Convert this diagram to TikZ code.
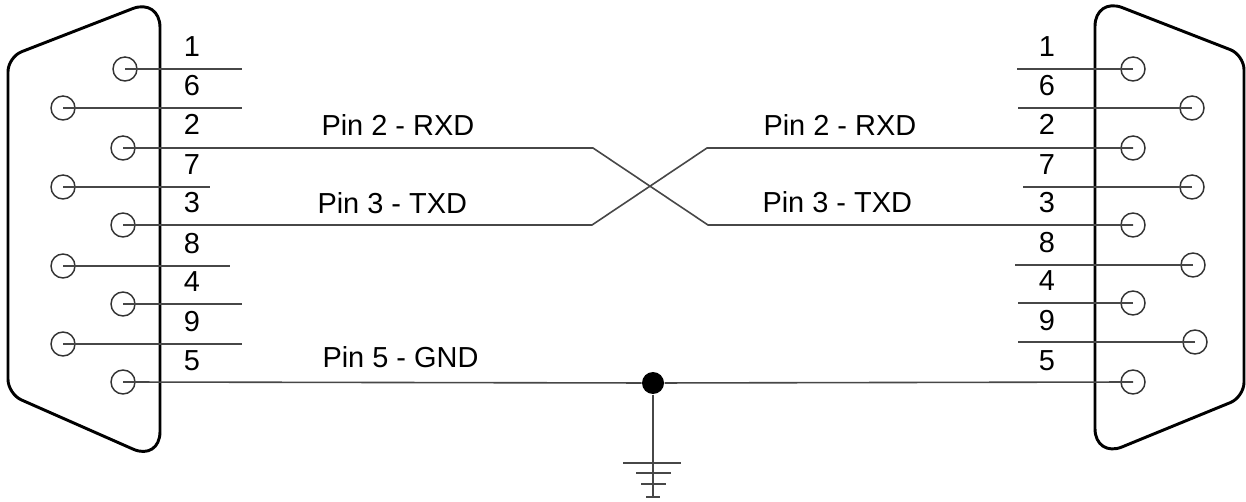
\documentclass[tikz,border=0pt]{standalone}
\usepackage{fontspec}
\setmainfont{Liberation Sans}

\tikzset{every picture/.style={line width=0.75pt}}
\tikzset{
	shell/.style={line width=2.2pt, line join=round},
	wire/.style={draw=black!72, line width=1.2pt},
	pinhole/.style={circle, draw=black!80, line width=1.1pt, minimum size=18pt, inner sep=0pt},
	pinnum/.style={anchor=base, inner sep=0pt, font=\fontsize{21.7}{26}\selectfont},
	signame/.style={anchor=base west, inner sep=0pt, font=\fontsize{21.7}{26}\selectfont},
	gnddot/.style={circle, fill=black, minimum size=16.5pt, inner sep=0pt},
}

\begin{document}
\begin{tikzpicture}[x=0.75pt,y=0.75pt,yscale=-1,xscale=1]
	\useasboundingbox (0,0) rectangle (1246,502);
	
	%Shape: Left D-Sub shell
	\draw [shell] (8,220) [rounded corners=11pt] -- (8,57) [rounded corners=22pt] -- (160,-2) -- (160,461) [rounded corners=11pt] -- (8,394) -- cycle ;
	%Shape: Right D-Sub shell
	\draw [shell] (1244,220) [rounded corners=11pt] -- (1244,55) [rounded corners=22pt] -- (1095,-3) -- (1095,458) [rounded corners=11pt] -- (1244,397) -- cycle ;
	
	%Shape: Left pin holes
	\node [pinhole] (L1) at (125,69) {};
	\node [pinhole] (L6) at (63,108) {};
	\node [pinhole] (L2) at (123,148) {};
	\node [pinhole] (L7) at (63,187) {};
	\node [pinhole] (L3) at (123,225) {};
	\node [pinhole] (L8) at (63,266) {};
	\node [pinhole] (L4) at (123,304) {};
	\node [pinhole] (L9) at (63,344) {};
	\node [pinhole] (L5) at (123,382) {};
	%Shape: Right pin holes
	\node [pinhole] (R1) at (1133,69) {};
	\node [pinhole] (R6) at (1192,108) {};
	\node [pinhole] (R2) at (1133,148) {};
	\node [pinhole] (R7) at (1192,187) {};
	\node [pinhole] (R3) at (1133,225) {};
	\node [pinhole] (R8) at (1193,265) {};
	\node [pinhole] (R4) at (1133,303) {};
	\node [pinhole] (R9) at (1195,342) {};
	\node [pinhole] (R5) at (1133,382) {};
	
	%Free wire ends
	\coordinate (L1e) at (242,69);
	\coordinate (L6e) at (242,108);
	\coordinate (L7e) at (210,187);
	\coordinate (L8e) at (230,266);
	\coordinate (L4e) at (242,304);
	\coordinate (L9e) at (242,344);
	\coordinate (R1e) at (1017,69);
	\coordinate (R6e) at (1018,108);
	\coordinate (R7e) at (1023,187);
	\coordinate (R8e) at (1015,265);
	\coordinate (R4e) at (1018,303);
	\coordinate (R9e) at (1018,342);
	%Crossover bends
	\coordinate (xa) at (593,148);
	\coordinate (xb) at (707,148);
	\coordinate (xc) at (592,225);
	\coordinate (xd) at (708,225);
	
	%Straight Lines: unused pins
	\draw [wire] (L1.center) -- (L1e) ;
	\draw [wire] (L6.center) -- (L6e) ;
	\draw [wire] (L7.center) -- (L7e) ;
	\draw [wire] (L8.center) -- (L8e) ;
	\draw [wire] (L4.center) -- (L4e) ;
	\draw [wire] (L9.center) -- (L9e) ;
	\draw [wire] (R1.center) -- (R1e) ;
	\draw [wire] (R6.center) -- (R6e) ;
	\draw [wire] (R7.center) -- (R7e) ;
	\draw [wire] (R8.center) -- (R8e) ;
	\draw [wire] (R4.center) -- (R4e) ;
	\draw [wire] (R9.center) -- (R9e) ;
	%Straight Lines: RXD / TXD crossover
	\draw [wire] (L2.center) -- (xa) -- (xd) -- (R3.center) ;
	\draw [wire] (L3.center) -- (xc) -- (xb) -- (R2.center) ;
	
	%Ground
	\node [gnddot] (gdot) at (653,383) {};
	\coordinate (gnd) at (653,497);
	\draw [wire] (L5.center) -- (gdot) -- (R5.center) ;
	\draw [wire] (gdot) -- (gnd) ;
	\draw [wire] (623,463) -- (681,463) (636,473) -- (671,473) (641,484) -- (666,484) (646,497) -- (660,497) ;
	
	% Text Node
	\node [pinnum] (n1) at (192,57) {1};
	\node [pinnum] (n6) at (192,96) {6};
	\node [pinnum] (n2) at (192,135) {2};
	\node [pinnum] (n7) at (192,175) {7};
	\node [pinnum] (n3) at (192,213) {3};
	\node [pinnum] (n8) at (192,254) {8};
	\node [pinnum] (n4) at (192,292) {4};
	\node [pinnum] (n9) at (192,332) {9};
	\node [pinnum] (n5) at (192,370) {5};
	% Text Node
	\node [pinnum] (m1) at (1047,57) {1};
	\node [pinnum] (m6) at (1047,96) {6};
	\node [pinnum] (m2) at (1047,135) {2};
	\node [pinnum] (m7) at (1047,175) {7};
	\node [pinnum] (m3) at (1047,213) {3};
	\node [pinnum] (m8) at (1047,253) {8};
	\node [pinnum] (m4) at (1047,291) {4};
	\node [pinnum] (m9) at (1047,330) {9};
	\node [pinnum] (m5) at (1047,370) {5};
	% Text Node
	\node [signame] (lrxd) at (321,136) {Pin 2 - RXD};
	\node [signame] (ltxd) at (317,214) {Pin 3 - TXD};
	\node [signame] (lgnd) at (322,368) {Pin 5 - GND};
	\node [signame] (rrxd) at (763,136) {Pin 2 - RXD};
	\node [signame] (rtxd) at (762,213) {Pin 3 - TXD};
	
\end{tikzpicture}
\end{document}
